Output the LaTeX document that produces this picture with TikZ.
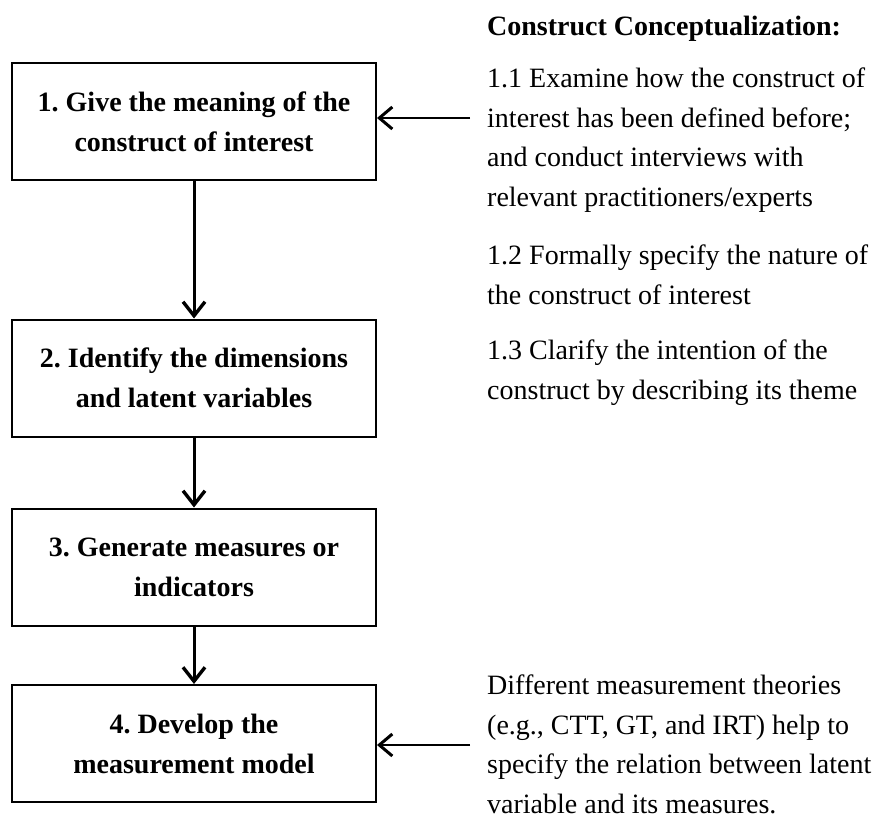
\documentclass[tikz,border=0pt]{standalone}
\usepackage{fontspec}
\setmainfont{Liberation Serif}
\frenchspacing
\usetikzlibrary{arrows.meta, positioning, calc}

\tikzset{
    stepbox/.style={draw, line width=2pt, minimum width=364pt, minimum height=117pt,
        align=center, font=\fontsize{28}{40}\selectfont\bfseries},
    note/.style={anchor=north west, align=left, inner sep=0pt,
        font=\fontsize{28}{39.5}\selectfont, execute at begin node={\rule{0pt}{22pt}}},
    flow/.style={line width=3pt, -{Straight Barb[length=14pt, width=22pt, line width=3.4pt]}},
    feed/.style={line width=2pt, -{Straight Barb[length=13pt, width=22pt, line width=3pt]}}
}

\begin{document}
\begin{tikzpicture}[x=1pt, y=-1pt]
\useasboundingbox (0,0) rectangle (877,821);
% Main steps of the procedure
\node[stepbox] (give) at (194,121.5) {1. Give the meaning of the\\construct of interest};
\node[stepbox] (dims) at (194,378) {2. Identify the dimensions\\and latent variables};
\node[stepbox] (meas) at (194,567) {3. Generate measures or\\indicators};
\node[stepbox] (model) at (194,743.5) {4. Develop the\\measurement model};
\draw[flow] (give) -- (dims);
\draw[flow] (dims) -- (meas);
\draw[flow] (meas) -- (model);
% Notes on the right
\node[note, font=\fontsize{28}{39.5}\selectfont\bfseries] (head) at (487,13) {Construct Conceptualization:};
\node[note] (sub1) at (487,68) {1.1 Examine how the construct of\\interest has been defined before;\\and conduct interviews with\\relevant practitioners/experts};
\node[note] (sub2) at (487,244.7) {1.2 Formally specify the nature of\\the construct of interest};
\node[note] (sub3) at (487,339.7) {1.3 Clarify the intention of the\\construct by describing its theme};
\node[note] (theory) at (487,675) {Different measurement theories\\(e.g., CTT, GT, and IRT) help to\\specify the relation between latent\\variable and its measures.};
\coordinate (in1) at (470,118);
\coordinate (in4) at (470,745);
\draw[feed] (in1) -- (in1 -| give.east);
\draw[feed] (in4) -- (in4 -| model.east);
\end{tikzpicture}
\end{document}
